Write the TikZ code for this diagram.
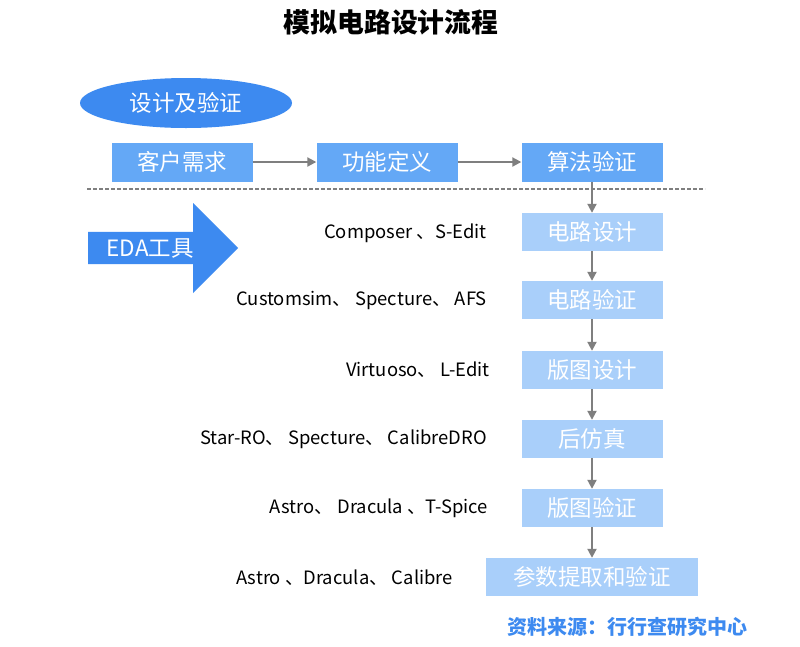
\documentclass[tikz,border=0pt]{standalone}
\usepackage{fontspec}
\setmainfont{Noto Sans CJK SC}
\usetikzlibrary{arrows.meta,shapes.geometric,shapes.arrows}
\definecolor{dblue}{HTML}{3D8AF0}
\definecolor{mblue}{HTML}{64A8F6}
\definecolor{lblue}{HTML}{A9CFFA}
\definecolor{agray}{HTML}{7F7F7F}
\tikzset{
  topbox/.style={fill=mblue, draw=none, minimum width=141pt, minimum height=39pt, text=white, font=\fontsize{22.5}{26}\selectfont, inner sep=0pt},
  lowbox/.style={fill=lblue, draw=none, minimum width=141pt, minimum height=38pt, text=white, font=\fontsize{22.5}{26}\selectfont, inner sep=0pt},
  tool/.style={anchor=east, font=\fontsize{18.4}{22}\selectfont, text=black, inner sep=0pt},
  flow/.style={draw=agray, line width=2pt, -{Triangle[length=9pt,width=9pt]}},
}
\begin{document}
\begin{tikzpicture}[x=1pt,y=-1pt]
\useasboundingbox (0,0) rectangle (800,646);
\fill[white] (0,0) rectangle (800,646);
\node[font=\fontsize{26.8}{30}\selectfont\bfseries] (title) at (391,22) {模拟电路设计流程};
\node[ellipse, fill=dblue, minimum width=212pt, minimum height=50pt, inner sep=0pt, text=white, font=\fontsize{22.5}{26}\selectfont] (ell) at (186,103) {设计及验证};
\node[topbox] (a) at (182,162) {客户需求};
\node[topbox] (b) at (387,162) {功能定义};
\node[topbox] (c) at (592,162) {算法验证};
\draw[flow] (a) -- (b);
\draw[flow] (b) -- (c);
\coordinate (dl) at (87,189);
\coordinate (dr) at (705,189);
\draw[agray, line width=1.5pt, dash pattern=on 4pt off 2pt] (dl) -- (dr);
\node[single arrow, fill=dblue, draw=none, minimum height=150pt, minimum width=90pt, single arrow head extend=18pt, single arrow tip angle=90, inner sep=0pt, anchor=west, text=white, font=\fontsize{22.5}{26}\selectfont] (eda) at (88,248) {EDA工具\hspace*{10pt}};
\node[lowbox] (d1) at (592,232) {电路设计};
\node[lowbox] (d2) at (592,300) {电路验证};
\node[lowbox] (d3) at (592,370) {版图设计};
\node[lowbox] (d4) at (592,439) {后仿真};
\node[lowbox] (d5) at (592,508) {版图验证};
\node[lowbox, minimum width=212pt] (d6) at (592,577) {参数提取和验证};
\draw[flow] (c) -- (d1);
\draw[flow] (d1) -- (d2);
\draw[flow] (d2) -- (d3);
\draw[flow] (d3) -- (d4);
\draw[flow] (d4) -- (d5);
\draw[flow] (d5) -- (d6);
\node[tool] (t1) at (487,233) {Composer 、S-Edit};
\node[tool] (t2) at (487,300) {Customsim、 Specture、 AFS};
\node[tool] (t3) at (490,370) {Virtuoso、 L-Edit};
\node[tool] (t4) at (487,439) {Star-RO、 Specture、 CalibreDRO};
\node[tool] (t5) at (488,508) {Astro、 Dracula 、T-Spice};
\node[tool] (t6) at (453,578) {Astro 、Dracula、 Calibre};
\node[anchor=east, text=dblue, font=\fontsize{20}{24}\selectfont\bfseries, inner sep=0pt] (src) at (748,627) {资料来源：行行查研究中心};
\end{tikzpicture}
\end{document}
